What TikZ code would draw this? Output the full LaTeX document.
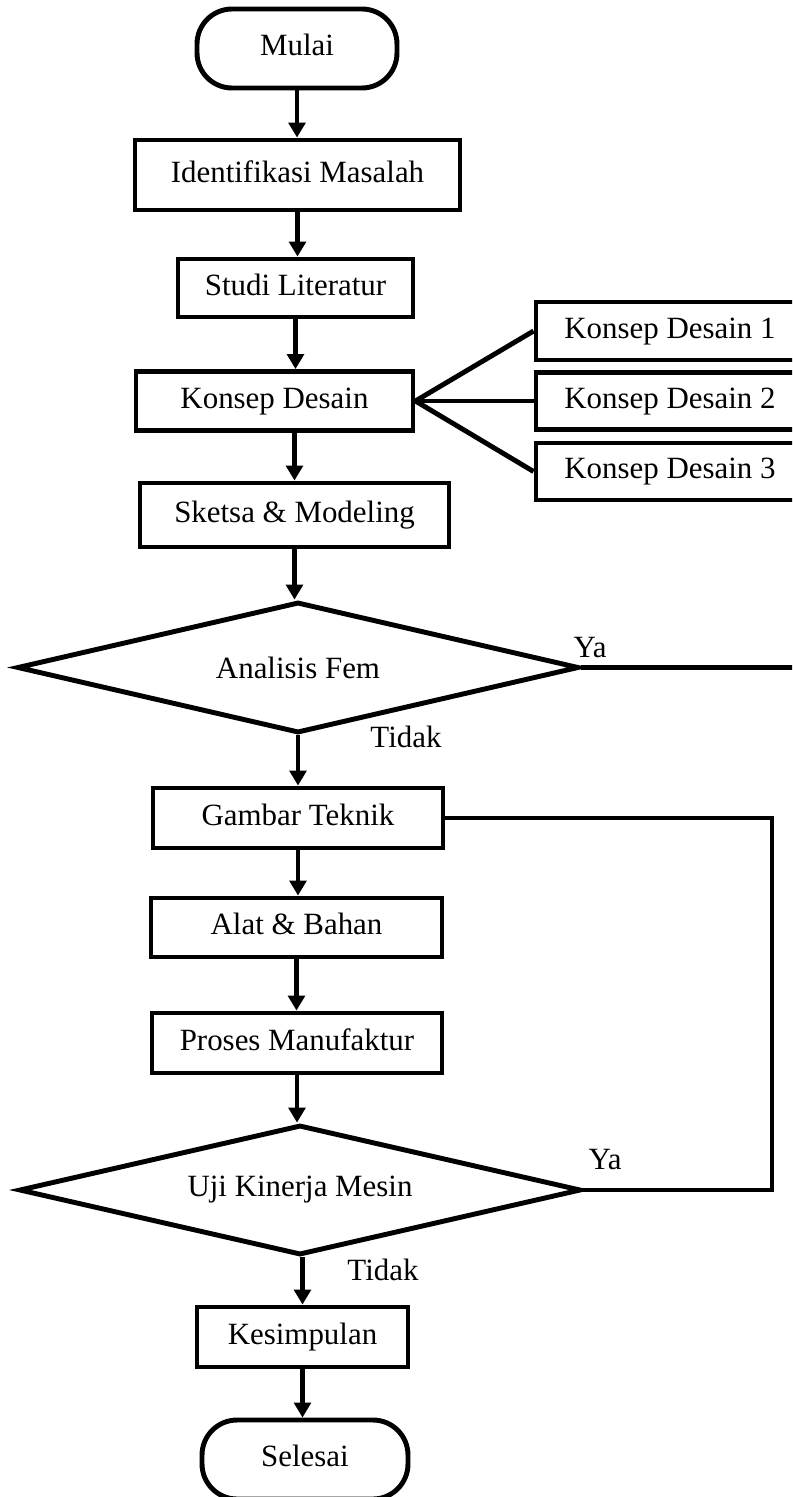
\documentclass[tikz,border=0pt]{standalone}
\usepackage{fontspec}
\setmainfont{Liberation Serif}
\usetikzlibrary{shapes.geometric,arrows.meta}

\begin{document}
\begin{tikzpicture}[x=0.02cm,y=-0.02cm,
	font=\fontsize{17.6pt}{21pt}\selectfont,
	line width=2.8pt,
	kotak/.style={draw,rectangle,inner sep=0pt,text height=0.8em,text depth=0pt},
	ujung/.style={kotak,rounded corners=0.7cm},
	cabang/.style={draw,diamond,aspect=4.3,inner sep=0pt,minimum width=11.24cm,minimum height=2.62cm},
	panah/.style={-{Triangle[length=8.5pt,width=9.5pt]}}]
	\clip (0,0) rectangle (792,1497);
	% alur utama
	\node[ujung,minimum width=4cm,minimum height=1.58cm] (mulai) at (297,48.5) {Mulai};
	\node[kotak,minimum width=6.5cm,minimum height=1.4cm] (identifikasi) at (297.5,175) {Identifikasi Masalah};
	\node[kotak,minimum width=4.7cm,minimum height=1.16cm] (studi) at (295.5,288) {Studi Literatur};
	\node[kotak,minimum width=5.54cm,minimum height=1.18cm] (konsep) at (274.5,401) {Konsep Desain};
	\node[kotak,minimum width=6.18cm,minimum height=1.28cm] (sketsa) at (294.5,515) {Sketsa \& Modeling};
	\node[cabang] (analisis) at (298,667.5) {Analisis Fem};
	\node[kotak,minimum width=5.8cm,minimum height=1.2cm] (gambar) at (298,818) {Gambar Teknik};
	\node[kotak,minimum width=5.82cm,minimum height=1.18cm] (alat) at (296.5,927.5) {Alat \& Bahan};
	\node[kotak,minimum width=5.8cm,minimum height=1.2cm] (proses) at (297,1043) {Proses Manufaktur};
	\node[cabang,minimum height=2.6cm] (uji) at (300,1190) {Uji Kinerja Mesin};
	\node[kotak,minimum width=4.22cm,minimum height=1.2cm] (kesimpulan) at (302.5,1337) {Kesimpulan};
	\node[ujung,minimum width=4.12cm,minimum height=1.58cm] (selesai) at (305,1459.5) {Selesai};
	% konsep desain
	\node[kotak,minimum width=5.36cm,minimum height=1.16cm] (kd1) at (670,331) {Konsep Desain 1};
	\node[kotak,minimum width=5.36cm,minimum height=1.14cm] (kd2) at (670,401) {Konsep Desain 2};
	\node[kotak,minimum width=5.36cm,minimum height=1.14cm] (kd3) at (670,471.5) {Konsep Desain 3};
	\foreach \k in {kd1,kd2,kd3} \draw (konsep.east) -- (\k.west);
	% keterangan
	\node[inner sep=0pt] (ya1) at (590,648) {Ya};
	\node[inner sep=0pt] (tidak1) at (406,737) {Tidak};
	\node[inner sep=0pt] (ya2) at (605,1160) {Ya};
	\node[inner sep=0pt] (tidak2) at (383,1270) {Tidak};
	\coordinate (ujungya) at (800,667.5);
	\coordinate (balik) at (772,1190);
	% panah
	\foreach \a/\b in {mulai/identifikasi,identifikasi/studi,studi/konsep,analisis/gambar,gambar/alat,alat/proses,proses/uji,kesimpulan/selesai}
		\draw[panah] (\a.south) -- (\a.south |- \b.north);
	\draw[panah] (sketsa |- konsep.south) -- (sketsa.north);
	\draw[panah] (sketsa.south) -- (sketsa.south |- analisis.north);
	\draw[panah] (kesimpulan |- uji.south) -- (kesimpulan.north);
	\draw (analisis.east) -- (ujungya);
	\draw (gambar.east) -| (balik) -- (uji.east);
\end{tikzpicture}
\end{document}
